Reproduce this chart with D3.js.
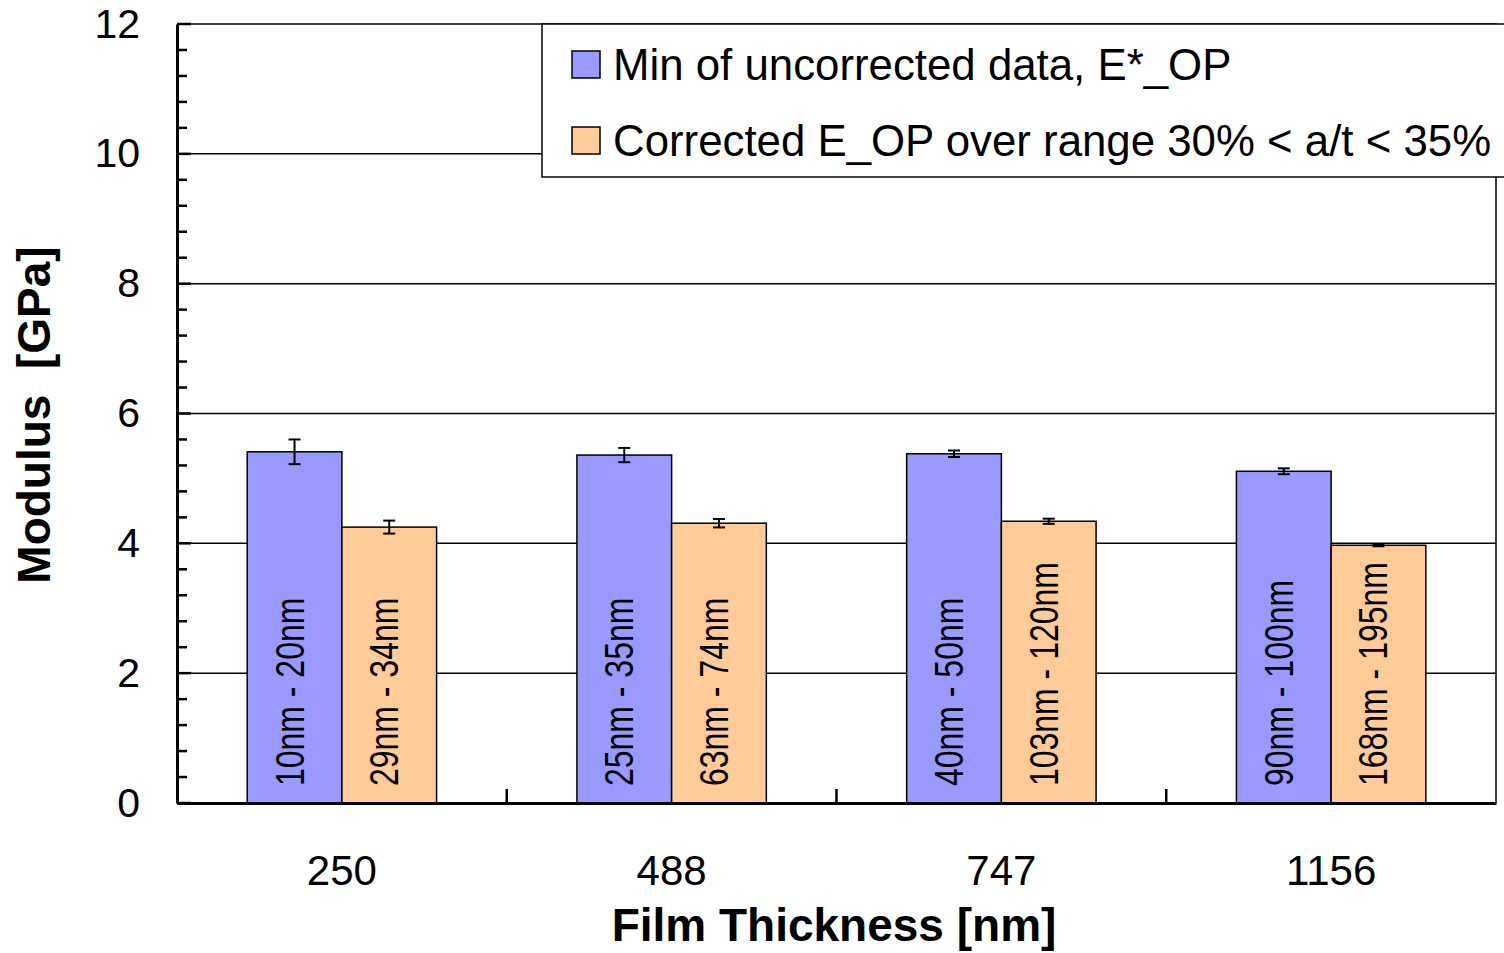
<!DOCTYPE html>
<html>
<head>
<meta charset="utf-8">
<script src="https://cdn.jsdelivr.net/npm/d3@7"></script>
<style>
  body { margin: 0; background: #fff; }
  svg { display: block; font-family: "Liberation Sans", Arial, sans-serif; }
</style>
</head>
<body>
<svg id="chart" width="1504" height="953"></svg>
<script>
// film thickness categories
const categories = ['250', '488', '747', '1156'];
const seriesNames = ['Min of uncorrected data, E*_OP', 'Corrected E_OP over range 30% < a/t < 35%'];
const seriesColors = ['#9999FF', '#FFCC99'];

const uncorrected = [5.41, 5.36, 5.38, 5.11];
const uncorrectedErr = [0.19, 0.11, 0.05, 0.045];
const corrected = [4.25, 4.31, 4.34, 3.97];
const correctedErr = [0.10, 0.065, 0.04, 0.015];

const uncorrectedLabels = ['10nm - 20nm', '25nm - 35nm', '40nm - 50nm', '90nm - 100nm'];
const correctedLabels = ['29nm - 34nm', '63nm - 74nm', '103nm - 120nm', '168nm - 195nm'];

const yTicks = [0, 2, 4, 6, 8, 10, 12];

const svg = d3.select('#chart');
const plotLeft = 177, plotRight = 1496, plotTop = 24, plotBottom = 803;

const x = d3.scaleBand().domain(categories).range([plotLeft, plotRight]).padding(0);
const xs = d3.scaleBand().domain([0, 1]).range([0, x.bandwidth()])
  .paddingInner(0).paddingOuter(0.741);
const y = d3.scaleLinear().domain([0, 12]).range([plotBottom, plotTop]);

const rows = categories.map((c, i) => [
  { cat: c, s: 0, v: uncorrected[i], e: uncorrectedErr[i], label: uncorrectedLabels[i] },
  { cat: c, s: 1, v: corrected[i], e: correctedErr[i], label: correctedLabels[i] }
]).flat();

// grid lines
svg.append('g')
  .selectAll('line')
  .data(yTicks.filter(t => t > 0 && t < 12))
  .join('line')
  .attr('x1', plotLeft).attr('x2', plotRight)
  .attr('y1', d => y(d)).attr('y2', d => y(d))
  .attr('stroke', '#000').attr('stroke-width', 1.5);

// frame top + right
svg.append('path')
  .attr('d', `M${plotLeft},${plotTop}H${plotRight}V${plotBottom}`)
  .attr('fill', 'none').attr('stroke', '#000').attr('stroke-width', 1.5);

// bars
svg.append('g')
  .selectAll('rect')
  .data(rows)
  .join('rect')
  .attr('x', d => x(d.cat) + xs(d.s))
  .attr('width', xs.bandwidth())
  .attr('y', d => y(d.v))
  .attr('height', d => y(0) - y(d.v))
  .attr('fill', d => seriesColors[d.s])
  .attr('stroke', '#000').attr('stroke-width', 1.5);

// error bars
const err = svg.append('g').attr('stroke', '#000').attr('stroke-width', 2);
rows.forEach(d => {
  const cx = x(d.cat) + xs(d.s) + xs.bandwidth() / 2;
  const y1 = y(d.v + d.e), y2 = y(d.v - d.e);
  err.append('line').attr('x1', cx).attr('x2', cx).attr('y1', y1).attr('y2', y2);
  err.append('line').attr('x1', cx - 6).attr('x2', cx + 6).attr('y1', y1).attr('y2', y1);
  err.append('line').attr('x1', cx - 6).attr('x2', cx + 6).attr('y1', y2).attr('y2', y2);
});

// rotated range labels inside bars
svg.append('g')
  .selectAll('text')
  .data(rows)
  .join('text')
  .attr('transform', d => {
    const cx = x(d.cat) + xs(d.s) + xs.bandwidth() / 2 + 9;
    return `translate(${cx},${y(0) - 17}) rotate(-90) scale(0.78,1)`;
  })
  .attr('font-size', 41)
  .attr('fill', '#000')
  .text(d => d.label);

// y axis
const yAxis = d3.axisLeft(y).tickValues(yTicks).tickSize(0).tickPadding(37);
const gy = svg.append('g').attr('transform', `translate(${plotLeft},0)`).call(yAxis);
gy.select('.domain').attr('stroke-width', 3);
gy.selectAll('text').attr('font-size', 41).attr('font-family', '"Liberation Sans", Arial, sans-serif');

// inward minor ticks on y
svg.append('g')
  .selectAll('line')
  .data(d3.range(0, 12.01, 0.4))
  .join('line')
  .attr('x1', plotLeft).attr('x2', d => plotLeft + (Math.abs(d / 2 - Math.round(d / 2)) < 0.01 ? 14 : 10))
  .attr('y1', d => y(d)).attr('y2', d => y(d))
  .attr('stroke', '#000').attr('stroke-width', 2.5);

// x axis
const xAxis = d3.axisBottom(x).tickSize(0).tickPadding(52);
const gx = svg.append('g').attr('transform', `translate(0,${plotBottom})`).call(xAxis);
gx.select('.domain').attr('stroke-width', 3);
gx.selectAll('text').attr('font-size', 42).attr('font-family', '"Liberation Sans", Arial, sans-serif');

// x ticks between categories
svg.append('g')
  .selectAll('line')
  .data(categories.slice(1))
  .join('line')
  .attr('x1', d => x(d)).attr('x2', d => x(d))
  .attr('y1', plotBottom).attr('y2', plotBottom - 14)
  .attr('stroke', '#000').attr('stroke-width', 2.5);

// axis titles
svg.append('text')
  .attr('x', 834)
  .attr('y', 941)
  .attr('text-anchor', 'middle')
  .attr('font-size', 46).attr('font-weight', 'bold')
  .text('Film Thickness [nm]');

svg.append('text')
  .attr('transform', `translate(50,${(245 + 585) / 2}) rotate(-90)`)
  .attr('text-anchor', 'middle')
  .attr('font-size', 46).attr('font-weight', 'bold')
  .style('white-space', 'pre')
  .text('Modulus  [GPa]');

// legend
const lg = svg.append('g');
lg.append('rect')
  .attr('x', 542).attr('y', 24).attr('width', 1000).attr('height', 153)
  .attr('fill', '#fff').attr('stroke', '#000').attr('stroke-width', 1.5);
seriesNames.forEach((name, i) => {
  const ly = 65 + i * 76;
  lg.append('rect')
    .attr('x', 572).attr('y', ly - 14).attr('width', 28).attr('height', 27)
    .attr('fill', seriesColors[i]).attr('stroke', '#000').attr('stroke-width', 1.5);
  lg.append('text')
    .attr('x', 613).attr('y', ly + 15)
    .attr('font-size', 43.8)
    .text(name);
});
</script>
</body>
</html>
